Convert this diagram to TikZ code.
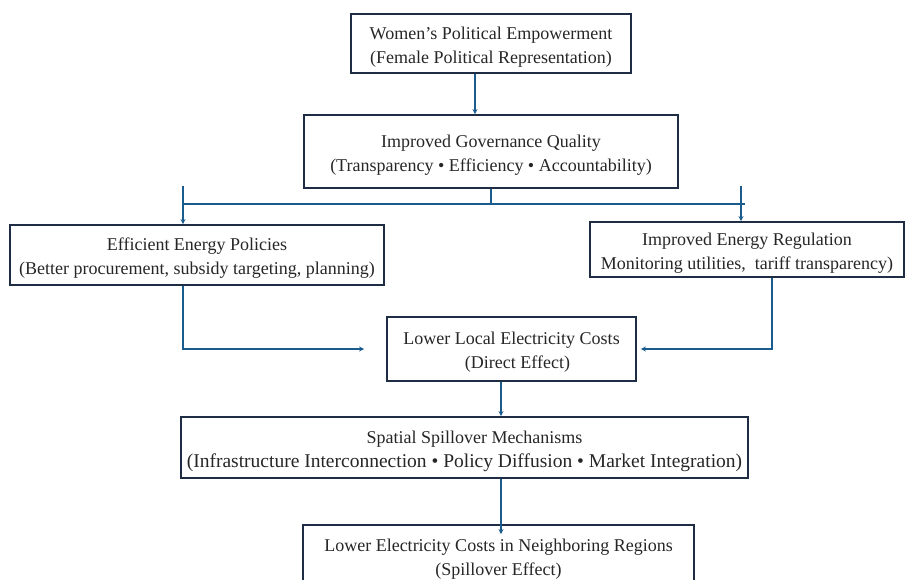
\documentclass[tikz,border=0pt]{standalone}
\usepackage{fontspec}
\setmainfont{Liberation Serif}
\usetikzlibrary{arrows.meta,calc}
\definecolor{boxc}{HTML}{1E2D44}
\definecolor{arrc}{HTML}{1B5C8E}
\begin{document}
\begin{tikzpicture}[x=1pt,y=-1pt,
  txt/.style={inner sep=0pt,align=center,font=\fontsize{18}{24}\selectfont,text=black!85,yshift=-3.5pt},
  box/.style={draw=boxc,line width=1.8pt,inner sep=0pt,label={[txt]center:#1}},
  link/.style={draw=arrc,line width=1.3pt},
  arr/.style={link,-{Stealth[length=5pt,width=5pt]}}]
\useasboundingbox (0,0) rectangle (906,579);
\clip (0,0) rectangle (906,579);
\node[box={Women's Political Empowerment\\(Female Political Representation)},minimum width=280pt,minimum height=59pt] (b1) at (491,43.5) {};
\node[box={Improved Governance Quality\\(Transparency \textbullet{} Efficiency \textbullet{} Accountability)},minimum width=374pt,minimum height=73pt] (b2) at (491,151.5) {};
\node[box={Efficient Energy Policies\\(Better procurement, subsidy targeting, planning)},minimum width=374pt,minimum height=60pt] (b3) at (197,255) {};
\node[box={Improved Energy Regulation\\Monitoring utilities,\ \ tariff transparency)},minimum width=314pt,minimum height=55pt] (b4) at (747,249.5) {};
\node[box={Lower Local Electricity Costs\\\hspace*{12pt}(Direct Effect)},minimum width=249pt,minimum height=64pt] (b5) at (511.5,349) {};
\node[box={\hspace*{20pt}Spatial Spillover Mechanisms\\{\fontsize{19.5}{24}\selectfont(Infrastructure Interconnection \textbullet{} Policy Diffusion \textbullet{} Market Integration)}},minimum width=567pt,minimum height=61pt] (b6) at (464.5,447.5) {};
\node[box={Lower Electricity Costs in Neighboring Regions\\(Spillover Effect)},minimum width=391pt,minimum height=62pt] (b7) at (498.5,556) {};
\coordinate (hl) at (183,204);
\coordinate (hr) at (745,204);
\coordinate (vl) at (183,186);
\coordinate (vr) at (741,186);
\draw[arr] ([xshift=-16pt]b1.south) -- ([xshift=-16pt]b1.south |- b2.north);
\draw[link] (b2.south) -- (b2.south |- hl);
\draw[link] (hl) -- (hr);
\draw[arr] (vl) -- (vl |- b3.north);
\draw[arr] (vr) -- (vr |- b4.north);
\draw[arr] (b3.south -| vl) |- ([xshift=-22pt]b5.west);
\draw[arr] ([xshift=25pt]b4.south) |- ([xshift=4pt]b5.east);
\draw[arr] ([xshift=-10.5pt]b5.south) -- ([xshift=-10.5pt]b5.south |- b6.north);
\draw[arr] ([xshift=36.5pt]b6.south) -- ([xshift=36.5pt,yshift=-10pt]b6.south |- b7.north);
\end{tikzpicture}
\end{document}
